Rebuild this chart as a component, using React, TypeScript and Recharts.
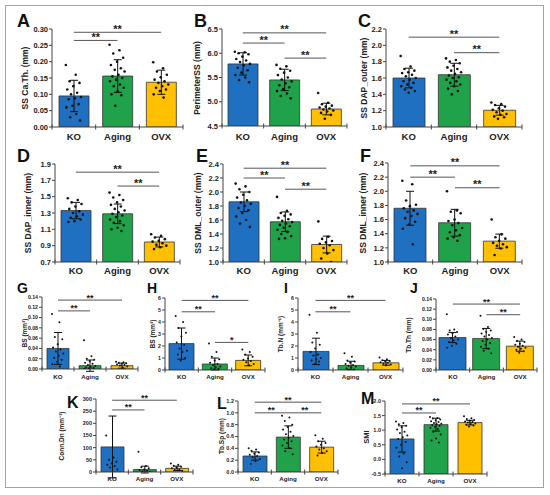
import React from 'react';
import { ComposedChart, Bar, Cell, ErrorBar, Scatter, XAxis, YAxis, ReferenceLine } from 'recharts';

const groups = ['KO', 'Aging', 'OVX'];
const groupColors = ['#1f70c1', '#20a24b', '#ffc000'];

// A
const aMeans = [0.095, 0.156, 0.137];
const aSds = [0.048, 0.05, 0.037];
const aKO = [0.19, 0.16, 0.14, 0.135, 0.125, 0.115, 0.105, 0.1, 0.092, 0.088, 0.085, 0.07, 0.065, 0.06, 0.04, 0.03, 0.02];
const aAging = [0.252, 0.235, 0.225, 0.212, 0.2, 0.19, 0.18, 0.175, 0.17, 0.16, 0.155, 0.15, 0.145, 0.14, 0.13, 0.125, 0.12, 0.11, 0.1, 0.097, 0.065];
const aOVX = [0.198, 0.18, 0.17, 0.16, 0.152, 0.145, 0.14, 0.135, 0.13, 0.125, 0.12, 0.115, 0.11, 0.1, 0.09];
const aTicks = [0, 0.05, 0.1, 0.15, 0.2, 0.25, 0.3];
const aSig = [{ from: 'KO', to: 'OVX', y: 0.29, mark: '**' }, { from: 'KO', to: 'Aging', y: 0.265, mark: '**' }];

// B
const bMeans = [5.78, 5.45, 4.85];
const bSds = [0.23, 0.22, 0.12];
const bKO = [6.03, 6.02, 6.0, 5.98, 5.93, 5.88, 5.85, 5.82, 5.78, 5.75, 5.7, 5.65, 5.6, 5.55, 5.5, 5.45, 5.4];
const bAging = [5.76, 5.73, 5.68, 5.64, 5.6, 5.55, 5.5, 5.46, 5.42, 5.38, 5.34, 5.3, 5.26, 5.22, 5.17, 5.12, 5.07];
const bOVX = [5.18, 4.98, 4.95, 4.92, 4.9, 4.88, 4.86, 4.84, 4.82, 4.8, 4.77, 4.73, 4.65];
const bTicks = [4.5, 5.0, 5.5, 6.0, 6.5];
const bSig = [{ from: 'KO', to: 'OVX', y: 6.42, mark: '**' }, { from: 'KO', to: 'Aging', y: 6.21, mark: '**' }, { from: 'Aging', to: 'OVX', y: 5.9, mark: '**' }];

// C
const cMeans = [1.6, 1.64, 1.205];
const cSds = [0.12, 0.14, 0.06];
const cKO = [1.87, 1.74, 1.71, 1.69, 1.67, 1.66, 1.64, 1.62, 1.6, 1.58, 1.56, 1.54, 1.52, 1.5, 1.48, 1.46, 1.44, 1.42];
const cAging = [1.84, 1.82, 1.8, 1.78, 1.75, 1.73, 1.71, 1.69, 1.67, 1.65, 1.63, 1.61, 1.6, 1.58, 1.56, 1.54, 1.52, 1.5, 1.47, 1.44, 1.4];
const cOVX = [1.3, 1.28, 1.27, 1.25, 1.23, 1.21, 1.2, 1.18, 1.16, 1.15, 1.13, 1.12, 1.1];
const cTicks = [1.0, 1.2, 1.4, 1.6, 1.8, 2.0, 2.2];
const cSig = [{ from: 'KO', to: 'OVX', y: 2.1, mark: '**' }, { from: 'Aging', to: 'OVX', y: 1.91, mark: '**' }];

// D
const dMeans = [1.33, 1.29, 0.945];
const dSds = [0.1, 0.12, 0.06];
const dKO = [1.48, 1.46, 1.43, 1.41, 1.38, 1.35, 1.32, 1.3, 1.28, 1.26, 1.24, 1.22, 1.2, 1.19];
const dAging = [1.55, 1.52, 1.49, 1.46, 1.43, 1.4, 1.38, 1.35, 1.33, 1.31, 1.29, 1.27, 1.25, 1.22, 1.2, 1.18, 1.15, 1.12, 1.1, 1.08];
const dOVX = [1.04, 1.02, 1.0, 0.98, 0.96, 0.95, 0.93, 0.91, 0.9, 0.88, 0.86];
const dTicks = [0.7, 0.9, 1.1, 1.3, 1.5, 1.7, 1.9];
const dSig = [{ from: 'KO', to: 'OVX', y: 1.8, mark: '**' }, { from: 'Aging', to: 'OVX', y: 1.63, mark: '**' }];

// E
const eMeans = [1.86, 1.575, 1.25];
const eSds = [0.14, 0.14, 0.12];
const eKO = [2.12, 2.08, 2.04, 2.0, 1.96, 1.92, 1.88, 1.85, 1.83, 1.8, 1.77, 1.74, 1.7, 1.65, 1.6, 1.55, 1.5];
const eAging = [1.93, 1.73, 1.7, 1.68, 1.66, 1.63, 1.61, 1.59, 1.57, 1.55, 1.53, 1.51, 1.49, 1.46, 1.43, 1.4, 1.37, 1.34, 1.33];
const eOVX = [1.58, 1.36, 1.33, 1.3, 1.28, 1.26, 1.24, 1.2, 1.17, 1.12, 1.05, 1.0];
const eTicks = [1.0, 1.2, 1.4, 1.6, 1.8, 2.0, 2.2, 2.4];
const eSig = [{ from: 'KO', to: 'OVX', y: 2.34, mark: '**' }, { from: 'KO', to: 'Aging', y: 2.2, mark: '**' }, { from: 'Aging', to: 'OVX', y: 2.04, mark: '**' }];

// F
const fMeans = [1.76, 1.555, 1.295];
const fSds = [0.24, 0.19, 0.1];
const fKO = [2.15, 2.1, 1.87, 1.81, 1.79, 1.76, 1.73, 1.71, 1.68, 1.65, 1.62, 1.57, 1.53, 1.47, 1.25];
const fAging = [2.0, 1.73, 1.71, 1.69, 1.6, 1.58, 1.55, 1.52, 1.48, 1.45, 1.42, 1.38, 1.35, 1.33, 1.3];
const fOVX = [1.6, 1.39, 1.35, 1.33, 1.3, 1.27, 1.25, 1.23, 1.21, 1.19, 1.1];
const fTicks = [1.0, 1.2, 1.4, 1.6, 1.8, 2.0, 2.2, 2.4];
const fSig = [{ from: 'KO', to: 'OVX', y: 2.36, mark: '**' }, { from: 'KO', to: 'Aging', y: 2.2, mark: '**' }, { from: 'Aging', to: 'OVX', y: 2.05, mark: '**' }];

// G
const gMeans = [0.04, 0.0065, 0.0065];
const gSds = [0.031, 0.011, 0.005];
const gKO = [0.107, 0.091, 0.062, 0.058, 0.048, 0.042, 0.038, 0.034, 0.03, 0.026, 0.022, 0.018, 0.014, 0.009, 0.005];
const gAging = [0.056, 0.025, 0.02, 0.018, 0.015, 0.012, 0.01, 0.008, 0.006, 0.004, 0.003, 0.002, 0.001, 0.0005];
const gOVX = [0.014, 0.013, 0.012, 0.011, 0.01, 0.009, 0.008, 0.007, 0.005, 0.003];
const gTicks = [0, 0.02, 0.04, 0.06, 0.08, 0.1, 0.12, 0.14];
const gSig = [{ from: 'KO', to: 'OVX', y: 0.134, mark: '**' }, { from: 'KO', to: 'Aging', y: 0.113, mark: '**' }];

// H
const hMeans = [2.2, 0.5, 0.8];
const hSds = [1.3, 0.5, 0.45];
const hKO = [4.5, 4.0, 3.5, 3.1, 2.8, 2.3, 2.1, 1.8, 1.6, 1.5, 1.3, 1.0, 0.8];
const hAging = [2.2, 1.5, 1.1, 0.9, 0.8, 0.6, 0.5, 0.4, 0.3, 0.2, 0.15, 0.1, 0.05];
const hOVX = [1.7, 1.5, 1.3, 1.1, 0.95, 0.85, 0.75, 0.65, 0.5, 0.4];
const hTicks = [0, 1, 2, 3, 4, 5, 6];
const hSig = [{ from: 'KO', to: 'OVX', y: 5.8, mark: '**' }, { from: 'KO', to: 'Aging', y: 4.85, mark: '**' }, { from: 'Aging', to: 'OVX', y: 2.3, mark: '*' }];

// I
const iMeans = [1.55, 0.38, 0.6];
const iSds = [1.1, 0.35, 0.2];
const iKO = [4.6, 3.1, 2.3, 2.1, 1.8, 1.5, 1.3, 1.2, 1.0, 0.9, 0.8, 0.7, 0.5];
const iAging = [1.4, 1.1, 0.8, 0.7, 0.6, 0.5, 0.42, 0.35, 0.3, 0.2, 0.12, 0.05, 0.02];
const iOVX = [1.05, 0.9, 0.82, 0.76, 0.7, 0.65, 0.6, 0.52, 0.45, 0.4];
const iTicks = [0, 1, 2, 3, 4, 5, 6];
const iSig = [{ from: 'KO', to: 'OVX', y: 5.8, mark: '**' }, { from: 'KO', to: 'Aging', y: 4.85, mark: '**' }];

// J
const jMeans = [0.064, 0.062, 0.047];
const jSds = [0.01, 0.02, 0.01];
const jKO = [0.11, 0.08, 0.078, 0.075, 0.072, 0.07, 0.066, 0.063, 0.06, 0.058, 0.055, 0.052, 0.048, 0.044];
const jAging = [0.107, 0.085, 0.081, 0.078, 0.075, 0.072, 0.069, 0.066, 0.063, 0.06, 0.057, 0.053, 0.05, 0.046, 0.042, 0.038, 0.033];
const jOVX = [0.065, 0.06, 0.057, 0.055, 0.052, 0.05, 0.048, 0.046, 0.044, 0.042, 0.04, 0.037, 0.034];
const jTicks = [0, 0.02, 0.04, 0.06, 0.08, 0.1, 0.12, 0.14];
const jSig = [{ from: 'KO', to: 'OVX', y: 0.13, mark: '**' }, { from: 'Aging', to: 'OVX', y: 0.109, mark: '**' }];

// K
const kMeans = [103, 10, 15];
const kSds = [127, 14, 9];
const kKO = [150, 60, 50, 42, 35, 30, 25, 18, 10];
const kAging = [83, 25, 20, 15, 10, 8, 5, 3, 1];
const kOVX = [35, 30, 26, 22, 18, 15, 10, 8, 5];
const kTicks = [0, 50, 100, 150, 200, 250, 300];
const kSig = [{ from: 'KO', to: 'OVX', y: 295, mark: '**' }, { from: 'KO', to: 'Aging', y: 255, mark: '**' }];

// L
const lMeans = [0.27, 0.59, 0.42];
const lSds = [0.07, 0.19, 0.1];
const lKO = [0.4, 0.38, 0.36, 0.33, 0.31, 0.29, 0.27, 0.25, 0.22, 0.18, 0.14];
const lAging = [0.95, 0.92, 0.86, 0.8, 0.76, 0.72, 0.68, 0.64, 0.61, 0.58, 0.55, 0.52, 0.49, 0.45, 0.4, 0.35, 0.3];
const lOVX = [0.62, 0.56, 0.52, 0.49, 0.46, 0.43, 0.4, 0.38, 0.35, 0.32, 0.28];
const lTicks = [0, 0.2, 0.4, 0.6, 0.8, 1.0, 1.2];
const lSig = [{ from: 'KO', to: 'OVX', y: 1.18, mark: '**' }, { from: 'KO', to: 'Aging', y: 1.0, mark: '**' }, { from: 'Aging', to: 'OVX', y: 1.0, mark: '**' }];

// M
const mMeans = [0.7, 1.19, 1.26];
const mSds = [0.45, 0.22, 0.08];
const mKO = [1.3, 1.25, 1.2, 1.15, 1.1, 1.02, 0.95, 0.9, 0.82, 0.76, 0.7, 0.6, 0.5, 0.4, 0.2, 0.1, -0.1, -0.3];
const mAging = [1.45, 1.42, 1.4, 1.37, 1.34, 1.31, 1.28, 1.25, 1.22, 1.2, 1.18, 1.15, 1.12, 1.08, 1.04, 0.95, 0.85, 0.72, 0.65, 0.58];
const mOVX = [1.48, 1.41, 1.38, 1.35, 1.32, 1.3, 1.28, 1.26, 1.23, 1.21, 1.19, 1.16, 1.13];
const mTicks = [-0.5, 0, 0.5, 1.0, 1.5, 2.0];
const mSig = [{ from: 'KO', to: 'OVX', y: 1.9, mark: '**' }, { from: 'KO', to: 'Aging', y: 1.59, mark: '**' }];

const FONT = '"Liberation Sans", Arial, Helvetica, sans-serif';
const AXIS = '#444';

type Lay = {
  x0: number; y0: number; x1: number; y1: number; barSize: number;
  tickFs: number; catFs: number; catDy: number; dec: number; r: number; spread: number; sigFs: number;
};

const big = { tickFs: 7.5, catFs: 9.5, r: 1.3, spread: 8, sigFs: 11 };
const small = { tickFs: 5.2, catFs: 6.2, r: 1.0, spread: 6, sigFs: 9 };

function CatTick(props: any) {
  const { x, y, payload, band, fs, dy } = props;
  const idx = groups.indexOf(payload.value);
  return (
    <g>
      <line x1={x - band / 2} x2={x - band / 2} y1={y - 2.5} y2={y + 2.5} stroke={AXIS} strokeWidth={1} />
      {idx === 2 && <line x1={x + band / 2} x2={x + band / 2} y1={y - 2.5} y2={y + 2.5} stroke={AXIS} strokeWidth={1} />}
      <text x={x} y={y + dy} textAnchor="middle" fontSize={fs} fontWeight="bold" fill="#222" fontFamily={FONT}>{payload.value}</text>
    </g>
  );
}

function SigMark(props: any) {
  const { viewBox, mark, fs } = props;
  if (!viewBox) return null;
  const cx = viewBox.x + viewBox.width / 2;
  return (
    <text x={cx} y={viewBox.y + 0.5} textAnchor="middle" fontSize={fs} fontWeight="bold" fill="#222" fontFamily={FONT}>{mark}</text>
  );
}

function Panel({ lay, means, sds, points, ticks, sig }: any) {
  const { x0, y0, x1, y1 } = lay as Lay;
  const L = x0 - 40;
  const T = y0 - 14;
  const W = x1 - L + 6;
  const H = y1 - T + 20;
  const band = (x1 - x0) / 3;
  const yMin = ticks[0];
  const yMax = ticks[ticks.length - 1];
  const barData = groups.map((g, i) => ({ cat: g, mean: means[i], sd: sds[i], span: [yMin, means[i]] }));
  const dots = points.flatMap((arr: number[], i: number) => arr.map((v, k) => ({ cat: groups[i], y: v, k })));
  return (
    <div style={{ position: 'absolute', left: L, top: T, width: W, height: H }}>
      <ComposedChart width={W} height={H} data={barData} margin={{ top: y0 - T, right: W - (x1 - L), bottom: 0, left: 0 }}>
        <XAxis
          dataKey="cat"
          type="category"
          allowDuplicatedCategory={false}
          interval={0}
          height={H - (y1 - T)}
          tickLine={false}
          tickSize={0}
          tickMargin={0}
          axisLine={{ stroke: AXIS, strokeWidth: 1 }}
          tick={<CatTick band={band} fs={lay.catFs} dy={lay.catDy} />}
        />
        <YAxis
          type="number"
          domain={[yMin, yMax]}
          ticks={ticks}
          allowDataOverflow
          interval={0}
          width={x0 - L}
          tickSize={3}
          tickMargin={1}
          axisLine={{ stroke: AXIS, strokeWidth: 1 }}
          tickLine={{ stroke: AXIS, strokeWidth: 1 }}
          tick={{ fontSize: lay.tickFs, fontWeight: 'bold', fill: '#222', fontFamily: FONT }}
          tickFormatter={(v: number) => v.toFixed(lay.dec)}
        />
        <Bar dataKey={yMin < 0 ? 'span' : 'mean'} barSize={lay.barSize} stroke="#333" strokeWidth={0.8} isAnimationActive={false}>
          {barData.map((d, i) => <Cell key={d.cat} fill={groupColors[i]} />)}
          <ErrorBar dataKey="sd" width={4} stroke="#111" strokeWidth={1} direction="y" />
        </Bar>
        <Scatter
          data={dots}
          dataKey="y"
          isAnimationActive={false}
          shape={(p: any) => {
            const k = p.payload ? p.payload.k : 0;
            const off = (((k * 0.618034) % 1) * 2 - 1) * lay.spread;
            return <circle cx={p.cx + off} cy={p.cy} r={lay.r} fill="#111" />;
          }}
        />
        {sig.map((s: any, i: number) => (
          <ReferenceLine
            key={i}
            segment={[{ x: s.from, y: s.y }, { x: s.to, y: s.y }]}
            stroke="#555"
            strokeWidth={1}
            label={<SigMark mark={s.mark} fs={lay.sigFs} />}
          />
        ))}
      </ComposedChart>
    </div>
  );
}

const panels = [
  { lay: { x0: 52, y0: 29, x1: 183, y1: 127, barSize: 30, catDy: 13, dec: 2, ...big }, means: aMeans, sds: aSds, points: [aKO, aAging, aOVX], ticks: aTicks, sig: aSig },
  { lay: { x0: 222, y0: 29, x1: 347, y1: 126, barSize: 30, catDy: 13.5, dec: 1, ...big }, means: bMeans, sds: bSds, points: [bKO, bAging, bOVX], ticks: bTicks, sig: bSig },
  { lay: { x0: 386, y0: 29, x1: 522, y1: 127, barSize: 32, catDy: 13, dec: 1, ...big }, means: cMeans, sds: cSds, points: [cKO, cAging, cOVX], ticks: cTicks, sig: cSig },
  { lay: { x0: 55, y0: 164, x1: 180, y1: 262, barSize: 30, catDy: 12, dec: 1, ...big }, means: dMeans, sds: dSds, points: [dKO, dAging, dOVX], ticks: dTicks, sig: dSig },
  { lay: { x0: 223, y0: 164, x1: 347, y1: 262, barSize: 30, catDy: 12, dec: 1, ...big }, means: eMeans, sds: eSds, points: [eKO, eAging, eOVX], ticks: eTicks, sig: eSig },
  { lay: { x0: 388, y0: 163, x1: 522, y1: 262, barSize: 32, catDy: 12, dec: 1, ...big }, means: fMeans, sds: fSds, points: [fKO, fAging, fOVX], ticks: fTicks, sig: fSig },
  { lay: { x0: 42, y0: 297, x1: 138, y1: 369, barSize: 22, catDy: 9.5, dec: 2, ...small }, means: gMeans, sds: gSds, points: [gKO, gAging, gOVX], ticks: gTicks, sig: gSig },
  { lay: { x0: 165, y0: 298, x1: 265, y1: 370, barSize: 25, catDy: 9, dec: 0, ...small }, means: hMeans, sds: hSds, points: [hKO, hAging, hOVX], ticks: hTicks, sig: hSig },
  { lay: { x0: 298, y0: 298, x1: 403, y1: 370, barSize: 26, catDy: 9, dec: 0, ...small }, means: iMeans, sds: iSds, points: [iKO, iAging, iOVX], ticks: iTicks, sig: iSig },
  { lay: { x0: 436, y0: 299, x1: 537, y1: 370, barSize: 27, catDy: 9, dec: 2, ...small }, means: jMeans, sds: jSds, points: [jKO, jAging, jOVX], ticks: jTicks, sig: jSig },
  { lay: { x0: 96, y0: 399, x1: 193, y1: 472, barSize: 23, catDy: 8.5, dec: 0, ...small, tickFs: 5.5 }, means: kMeans, sds: kSds, points: [kKO, kAging, kOVX], ticks: kTicks, sig: kSig },
  { lay: { x0: 238, y0: 401, x1: 338, y1: 472, barSize: 24, catDy: 8.5, dec: 1, ...small, tickFs: 5.5 }, means: lMeans, sds: lSds, points: [lKO, lAging, lOVX], ticks: lTicks, sig: lSig },
  { lay: { x0: 385, y0: 401, x1: 487, y1: 474, barSize: 24, catDy: 8.5, dec: 1, ...small, tickFs: 5.5 }, means: mMeans, sds: mSds, points: [mKO, mAging, mOVX], ticks: mTicks, sig: mSig },
];

const letters = [
  { t: 'A', x: 17, y: 27, fs: 18 }, { t: 'B', x: 194, y: 27, fs: 18 }, { t: 'C', x: 358, y: 27, fs: 18 },
  { t: 'D', x: 17, y: 162, fs: 18 }, { t: 'E', x: 196, y: 162, fs: 18 }, { t: 'F', x: 360, y: 162, fs: 18 },
  { t: 'G', x: 17, y: 293, fs: 14 }, { t: 'H', x: 147, y: 293, fs: 14 }, { t: 'I', x: 284, y: 293, fs: 14 }, { t: 'J', x: 410, y: 293, fs: 14 },
  { t: 'K', x: 67, y: 408, fs: 16 }, { t: 'L', x: 217, y: 409, fs: 16 }, { t: 'M', x: 361, y: 404, fs: 16 },
];

const yLabels = [
  { t: 'SS Ca.Th. (mm)', x: 25, y: 78, fs: 8.5 },
  { t: 'PerimeterSS (mm)', x: 197, y: 78, fs: 8.5 },
  { t: 'SS DAP_outer (mm)', x: 364, y: 78, fs: 8.5 },
  { t: 'SS DAP_inner (mm)', x: 28, y: 213, fs: 8.5 },
  { t: 'SS DML_outer (mm)', x: 198, y: 213, fs: 8.5 },
  { t: 'SS DML_inner (mm)', x: 363, y: 213, fs: 8.5 },
  { t: 'BS (mm³)', x: 24, y: 333, fs: 6.5 },
  { t: 'BS (mm³)', x: 152, y: 334, fs: 6.5 },
  { t: 'Tb.N (mm⁻¹)', x: 280, y: 334, fs: 6.5 },
  { t: 'Tb.Th (mm)', x: 408, y: 335, fs: 6.5 },
  { t: 'Conn.Dn (mm⁻³)', x: 61, y: 436, fs: 6.5 },
  { t: 'Tb.Sp (mm)', x: 221, y: 436, fs: 6.5 },
  { t: 'SMI', x: 366, y: 437, fs: 7.5 },
];

export default function App() {
  return (
    <div style={{ position: 'absolute', left: 0, top: 0, width: 550, height: 495, background: '#fff', fontFamily: FONT, overflow: 'hidden' }}>
      <div style={{ position: 'absolute', left: 5, top: 5, width: 539, height: 483, border: '1.5px solid #a3a3a3', boxSizing: 'border-box' }} />
      {panels.map((p, i) => (
        <Panel key={i} {...p} />
      ))}
      <svg width={550} height={495} style={{ position: 'absolute', left: 0, top: 0, pointerEvents: 'none' }}>
        {letters.map((l) => (
          <text key={l.t} x={l.x} y={l.y} fontSize={l.fs} fontWeight="bold" fill="#111" fontFamily={FONT}>{l.t}</text>
        ))}
        {yLabels.map((l, i) => (
          <text key={i} x={l.x} y={l.y} transform={`rotate(-90 ${l.x} ${l.y})`} textAnchor="middle" dominantBaseline="central" fontSize={l.fs} fontWeight="bold" fill="#222" fontFamily={FONT}>{l.t}</text>
        ))}
      </svg>
    </div>
  );
}
